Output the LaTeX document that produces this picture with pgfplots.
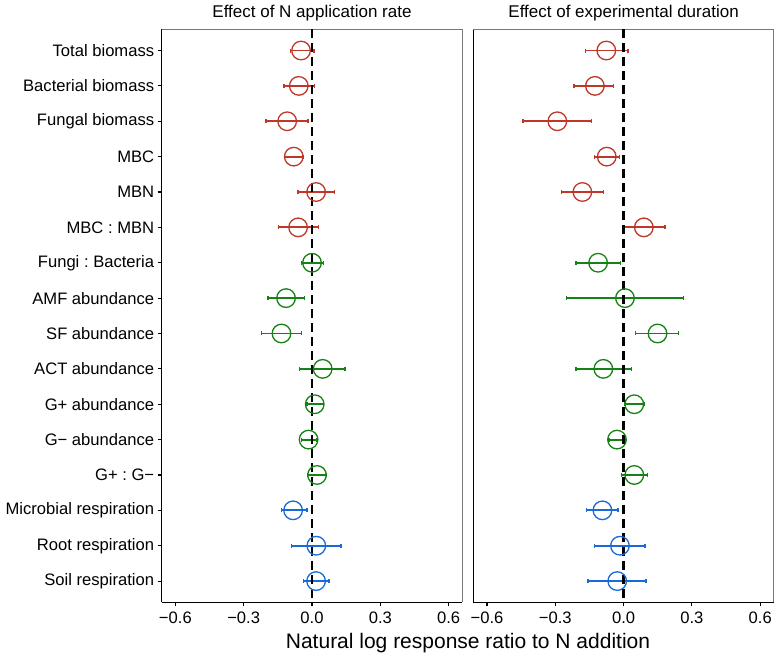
\documentclass[border=0pt]{standalone}
\usepackage{pgfplots}
\usepackage{pgfplotstable}
\usepackage{fontspec}
\setmainfont{Liberation Sans}
\pgfplotsset{compat=1.18}

\definecolor{bioRed}{RGB}{190,55,40}
\definecolor{bioGreen}{RGB}{20,130,20}
\definecolor{bioBlue}{RGB}{25,105,215}
\definecolor{frameGray}{RGB}{120,120,120}

% y: 16 = Total biomass (top) ... 1 = Soil respiration (bottom)
% em / ep: distance from mean to lower / upper CI limit
\pgfplotstableread{
y  x      em     ep
16 -0.048 0.047 0.057
15 -0.058 0.066 0.068
14 -0.109 0.092 0.091
13 -0.080 0.040 0.041
12  0.018 0.079 0.081
11 -0.061 0.086 0.090
10  0.000 0.047 0.051
9  -0.114 0.079 0.080
8  -0.134 0.088 0.087
7   0.047 0.101 0.098
6   0.012 0.035 0.039
5  -0.015 0.032 0.038
4   0.022 0.042 0.042
3  -0.083 0.051 0.060
2   0.019 0.108 0.109
1   0.018 0.056 0.056
}\nrate

\pgfplotstableread{
y  x      em     ep
16 -0.076 0.092 0.096
15 -0.126 0.092 0.081
14 -0.291 0.150 0.151
13 -0.074 0.054 0.055
12 -0.181 0.091 0.093
11  0.089 0.089 0.093
10 -0.112 0.098 0.099
9   0.006 0.257 0.257
8   0.149 0.096 0.093
7  -0.089 0.121 0.124
6   0.047 0.041 0.044
5  -0.029 0.035 0.038
4   0.047 0.056 0.058
3  -0.093 0.069 0.068
2  -0.016 0.112 0.109
1  -0.028 0.128 0.127
}\duration

\pgfplotsset{
  forest/.style={
    scale only axis,
    width=300.6pt, height=573pt,
    xmin=-0.66, xmax=0.66, ymin=0.4, ymax=16.6,
    xtick={-0.6,-0.3,0,0.3,0.6},
    xticklabels={−0.6,−0.3,0.0,0.3,0.6},
    axis lines*=left,
    axis line style={black, line width=1.2pt, -},
    tick align=outside,
    major tick length=4pt,
    tick style={black, line width=1.1pt},
    ticklabel style={font=\fontsize{16.6}{18}\selectfont},
    xticklabel style={yshift=-2pt},
    title style={font=\fontsize{17}{19}\selectfont, at={(0.5,1)}, anchor=base, yshift=6pt},
    clip=false,
  },
  est/.style={
    draw=#1, line width=1.3pt, only marks,
    mark=o, mark size=9.3pt, mark options={draw=#1, line width=1.3pt, fill=none},
    error bars/.cd, x dir=both, x explicit,
    error bar style={draw=#1, line width=1.8pt},
    error mark=|, error mark options={draw=#1, line width=1.5pt, mark size=2pt},
    /pgfplots/.cd,
  },
  zero/.style={black, line width=2.3pt, dash pattern=on 9pt off 5pt},
}

\begin{document}
\frenchspacing
\begin{tikzpicture}
\useasboundingbox (-161.7pt,-51.7pt) rectangle (613.3pt,602.3pt);

\begin{axis}[forest,
  at={(0pt,0pt)},
  title={Effect of N application rate},
  ytick={1,...,16},
  yticklabels={Soil respiration,Root respiration,Microbial respiration,G+ : G−,G− abundance,G+ abundance,ACT abundance,SF abundance,AMF abundance,Fungi : Bacteria,MBC : MBN,MBN,MBC,Fungal biomass,Bacterial biomass,Total biomass},
]
\draw[frameGray, line width=1.1pt] (rel axis cs:0,1) -- (rel axis cs:1,1) -- (rel axis cs:1,0);
\addplot[skip coords between index={6}{16}, est=bioRed]
  table[x=x, y=y, x error minus=em, x error plus=ep] {\nrate};
\addplot[skip coords between index={0}{6}, skip coords between index={13}{16}, est=bioGreen]
  table[x=x, y=y, x error minus=em, x error plus=ep] {\nrate};
\addplot[skip coords between index={0}{13}, est=bioBlue]
  table[x=x, y=y, x error minus=em, x error plus=ep] {\nrate};
\addplot[zero] coordinates {(0,16.6) (0,0.4)};
\end{axis}

\begin{axis}[forest,
  at={(311.6pt,0pt)},
  title={Effect of experimental duration},
  ytick=\empty,
]
\draw[frameGray, line width=1.1pt] (rel axis cs:0,1) -- (rel axis cs:1,1) -- (rel axis cs:1,0);
\addplot[skip coords between index={6}{16}, est=bioRed]
  table[x=x, y=y, x error minus=em, x error plus=ep] {\duration};
\addplot[skip coords between index={0}{6}, skip coords between index={13}{16}, est=bioGreen]
  table[x=x, y=y, x error minus=em, x error plus=ep] {\duration};
\addplot[skip coords between index={0}{13}, est=bioBlue]
  table[x=x, y=y, x error minus=em, x error plus=ep] {\duration};
\addplot[zero] coordinates {(0,16.6) (0,0.4)};
\end{axis}

\node[font=\fontsize{21}{24}\selectfont, anchor=base] at (306.3pt,-46pt)
  {Natural log response ratio to N addition};
\end{tikzpicture}
\end{document}
